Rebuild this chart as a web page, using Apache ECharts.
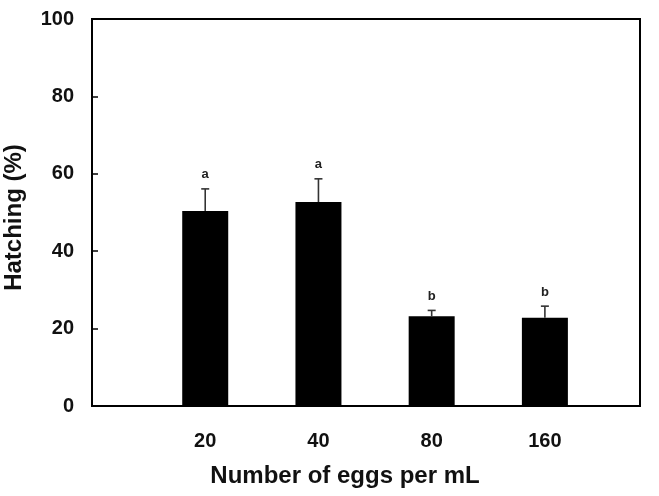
<!DOCTYPE html>
<html>
<head>
<meta charset="utf-8">
<script src="https://cdn.jsdelivr.net/npm/echarts@6/dist/echarts.min.js"></script>
<style>
  html, body { margin: 0; padding: 0; background: #fff; }
  #chart { width: 659px; height: 496px; }
</style>
</head>
<body>
<div id="chart"></div>
<script>
// eggs per mL groups, placed at x = 1..4
const categories = ['20', '40', '80', '160'];
const positions = [1, 2, 3, 4];
const hatching = [50.4, 52.7, 23.2, 22.8];
const errors = [5.7, 6.0, 1.5, 3.0];
const letters = ['a', 'a', 'b', 'b'];
const yTicks = [0, 20, 40, 60, 80, 100];

(function(){
  const chart = echarts.init(document.getElementById('chart'));
  const font = 'Liberation Sans, Arial, sans-serif';

  const barData = positions.map((x, i) => [x, hatching[i]]);
  const errData = positions.map((x, i) => [x, hatching[i], hatching[i] + errors[i], i]);

  chart.setOption({
    animation: false,
    grid: {
      left: 92, right: 19, top: 19, bottom: 90,
      outerBoundsMode: 'none',
      containLabel: false,
      show: true, borderColor: '#000', borderWidth: 2, backgroundColor: '#fff'
    },
    xAxis: {
      type: 'value',
      min: 0,
      max: 4.84,
      interval: 1,
      name: 'Number of eggs per mL',
      nameLocation: 'middle',
      nameGap: 58,
      nameTextStyle: { fontFamily: font, fontSize: 24, fontWeight: 'bold', color: '#111', padding: [0, 42, 0, 0] },
      axisLine: { show: true, lineStyle: { color: '#000', width: 2 } },
      axisTick: { show: false },
      splitLine: { show: false },
      axisLabel: {
        margin: 25,
        fontFamily: font, fontSize: 20, fontWeight: 'bold', color: '#111',
        showMaxLabel: false,
        formatter: v => {
          const i = positions.indexOf(v);
          return i >= 0 ? categories[i] : '';
        }
      }
    },
    yAxis: {
      type: 'value',
      min: yTicks[0],
      max: yTicks[yTicks.length - 1],
      interval: 20,
      name: 'Hatching (%)',
      nameLocation: 'middle',
      nameGap: 66,
      nameTextStyle: { fontFamily: font, fontSize: 24, fontWeight: 'bold', color: '#111', padding: [0, 10, 0, 0] },
      axisLine: { show: true, lineStyle: { color: '#000', width: 2 } },
      axisTick: { show: true, inside: true, length: 6, lineStyle: { color: '#000', width: 1.5 } },
      splitLine: { show: false },
      axisLabel: { margin: 18, fontFamily: font, fontSize: 20, fontWeight: 'bold', color: '#111' }
    },
    series: [
      {
        type: 'bar',
        data: barData,
        barWidth: 46,
        itemStyle: { color: '#000' }
      },
      {
        type: 'custom',
        data: errData,
        z: 5,
        renderItem: (params, api) => {
          const x = api.value(0);
          const base = api.coord([x, api.value(1)]);
          const top = api.coord([x, api.value(2)]);
          const i = api.value(3);
          const style = { stroke: '#333', lineWidth: 1.6 };
          return {
            type: 'group',
            children: [
              { type: 'line', shape: { x1: base[0], y1: base[1], x2: top[0], y2: top[1] }, style },
              { type: 'line', shape: { x1: top[0] - 4, y1: top[1], x2: top[0] + 4, y2: top[1] }, style },
              {
                type: 'text',
                style: {
                  x: top[0], y: top[1] - 14,
                  text: letters[i],
                  textAlign: 'center', textVerticalAlign: 'middle',
                  fontFamily: font, fontSize: 13, fontWeight: 'bold', fill: '#222'
                }
              }
            ]
          };
        }
      }
    ]
  });
})();
</script>
</body>
</html>
